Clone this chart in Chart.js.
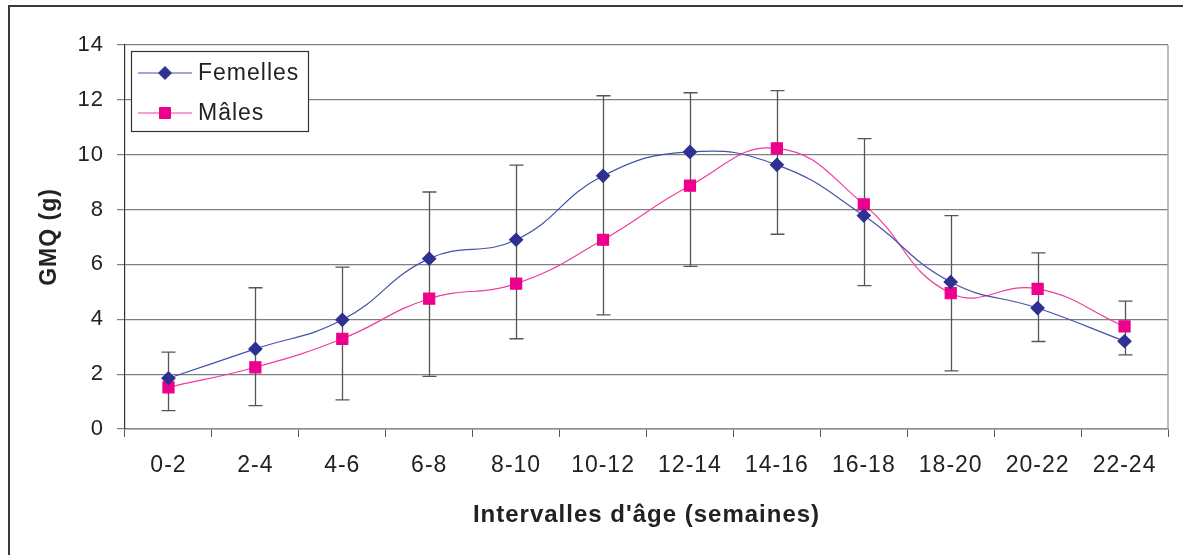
<!DOCTYPE html>
<html>
<head>
<meta charset="utf-8">
<script src="https://cdn.jsdelivr.net/npm/chart.js@4/dist/chart.umd.min.js"></script>
<style>
  body{margin:0;background:#fff;}
  #wrap{position:relative;width:1183px;height:555px;overflow:hidden;}
  #frame{position:absolute;left:8px;top:5px;width:1300px;height:700px;border-left:2px solid #3a3a3a;border-top:2px solid #3a3a3a;}
  canvas{position:absolute;left:0;top:0;}
</style>
</head>
<body>
<div id="wrap">
  <div id="frame"></div>
  <canvas id="gmqChart" width="1183" height="555"></canvas>
</div>
<script>
const ageLabels = ["0-2","2-4","4-6","6-8","8-10","10-12","12-14","14-16","16-18","18-20","20-22","22-24"];
const femelles  = [1.85, 2.92, 3.98, 6.21, 6.90, 9.23, 10.10, 9.63, 7.78, 5.36, 4.41, 3.20];
const males     = [1.52, 2.25, 3.29, 4.75, 5.30, 6.90, 8.87, 10.23, 8.19, 4.95, 5.11, 3.74];
// error bars (upper / lower ends)
const errHaut   = [2.80, 5.15, 5.90, 8.64, 9.62, 12.15, 12.26, 12.34, 10.59, 7.78, 6.42, 4.66];
const errBas    = [0.67, 0.85, 1.06, 1.92, 3.29, 4.16, 5.93, 7.10, 5.23, 2.12, 3.19, 2.70];
const yTicks    = [0, 2, 4, 6, 8, 10, 12, 14];

const FONT = "'Liberation Sans', Arial, sans-serif";

/* Excel-like loose letter spacing on all canvas text */
const spacing = {
  id:"spacing",
  beforeDraw(chart){ chart.ctx.letterSpacing = "1px"; }
};

/* -------- error bars, under the lines -------- */
const errorBars = {
  id:"errorBars",
  beforeDatasetsDraw(chart){
    const {ctx, scales:{x,y}} = chart;
    ctx.save();
    ctx.strokeStyle="#555";
    ctx.lineWidth=1.3;
    errHaut.forEach((hi,i)=>{
      const px = Math.round(x.getPixelForValue(i))+0.5;
      const yt = y.getPixelForValue(hi), yb = y.getPixelForValue(errBas[i]);
      ctx.beginPath();
      ctx.moveTo(px,yt); ctx.lineTo(px,yb);
      ctx.moveTo(px-7,yt); ctx.lineTo(px+7,yt);
      ctx.moveTo(px-7,yb); ctx.lineTo(px+7,yb);
      ctx.stroke();
    });
    ctx.restore();
  }
};

/* -------- right border of plot + boxed legend -------- */
const frameAndLegend = {
  id:"frameAndLegend",
  afterDraw(chart){
    const {ctx, chartArea:a} = chart;
    ctx.save();
    ctx.strokeStyle="#a6a6a6";
    ctx.lineWidth=1.5;
    ctx.beginPath();
    ctx.moveTo(a.right, a.top); ctx.lineTo(a.right, a.bottom);
    ctx.stroke();

    const bx=a.left+6, by=a.top+6, bw=177, bh=80;
    ctx.fillStyle="#fff";
    ctx.fillRect(bx,by,bw,bh);
    ctx.strokeStyle="#333";
    ctx.lineWidth=1.2;
    ctx.strokeRect(bx+0.5,by+0.5,bw,bh);

    chart.data.datasets.forEach((ds,i)=>{
      const cy = by+22+i*40;
      ctx.strokeStyle=ds.borderColor;
      ctx.lineWidth=1;
      ctx.beginPath();
      ctx.moveTo(bx+7,cy); ctx.lineTo(bx+61,cy);
      ctx.stroke();
      ctx.fillStyle=ds.pointBackgroundColor;
      ctx.strokeStyle=ds.pointBorderColor;
      Chart.helpers.drawPoint(ctx,{pointStyle:ds.pointStyle,radius:ds.pointRadius,borderWidth:1,rotation:0},bx+34,cy);
      ctx.fillStyle="#222";
      ctx.font="23px "+FONT;
      ctx.letterSpacing="1px";
      ctx.textBaseline="middle";
      ctx.textAlign="left";
      ctx.fillText(ds.label,bx+67,cy+1);
    });
    ctx.restore();
  }
};

new Chart(document.getElementById("gmqChart"),{
  type:"line",
  data:{
    labels:ageLabels,
    datasets:[
      {label:"Femelles", data:femelles,
       borderColor:"#4351a8", borderWidth:1.2, tension:0.45,
       pointStyle:"rectRot", pointRadius:6.5, pointHoverRadius:6.5,
       pointBackgroundColor:"#2e3192", pointBorderColor:"#2e3192"},
      {label:"Mâles", data:males,
       borderColor:"#f03c9e", borderWidth:1.2, tension:0.45,
       pointStyle:"rect", pointRadius:7.8, pointHoverRadius:7.8,
       pointBackgroundColor:"#ec008c", pointBorderColor:"#ec008c"}
    ]
  },
  options:{
    responsive:false,
    animation:false,
    devicePixelRatio:1,
    layout:{padding:{left:0,right:15,top:45,bottom:0}},
    plugins:{legend:{display:false}, tooltip:{enabled:false}},
    scales:{
      x:{
        offset:true,
        grid:{offset:true, drawOnChartArea:false, drawTicks:true, tickLength:8, color:"#555"},
        border:{color:"#8a8a8a", width:1.5},
        ticks:{color:"#222", font:{family:FONT, size:23}, padding:15, maxRotation:0, autoSkip:false},
        title:{display:true, text:"Intervalles d'âge (semaines)", color:"#222",
               font:{family:FONT, size:24, weight:"bold"}, padding:{top:0,bottom:25}},
        afterFit(s){ s.height = 126; }
      },
      y:{
        min:0, max:14,
        afterBuildTicks(s){ s.ticks = yTicks.map(v=>({value:v})); },
        grid:{color:"#7f7f7f", lineWidth:1.2, tickLength:8},
        border:{color:"#333", width:1.2},
        ticks:{color:"#222", font:{family:FONT, size:22}, padding:13},
        title:{display:true, text:"GMQ (g)", color:"#222",
               font:{family:FONT, size:23, weight:"bold"}, padding:{top:36,bottom:0}},
        afterFit(s){ s.width = 125; }
      }
    }
  },
  plugins:[spacing, errorBars, frameAndLegend]
});
</script>
</body>
</html>
